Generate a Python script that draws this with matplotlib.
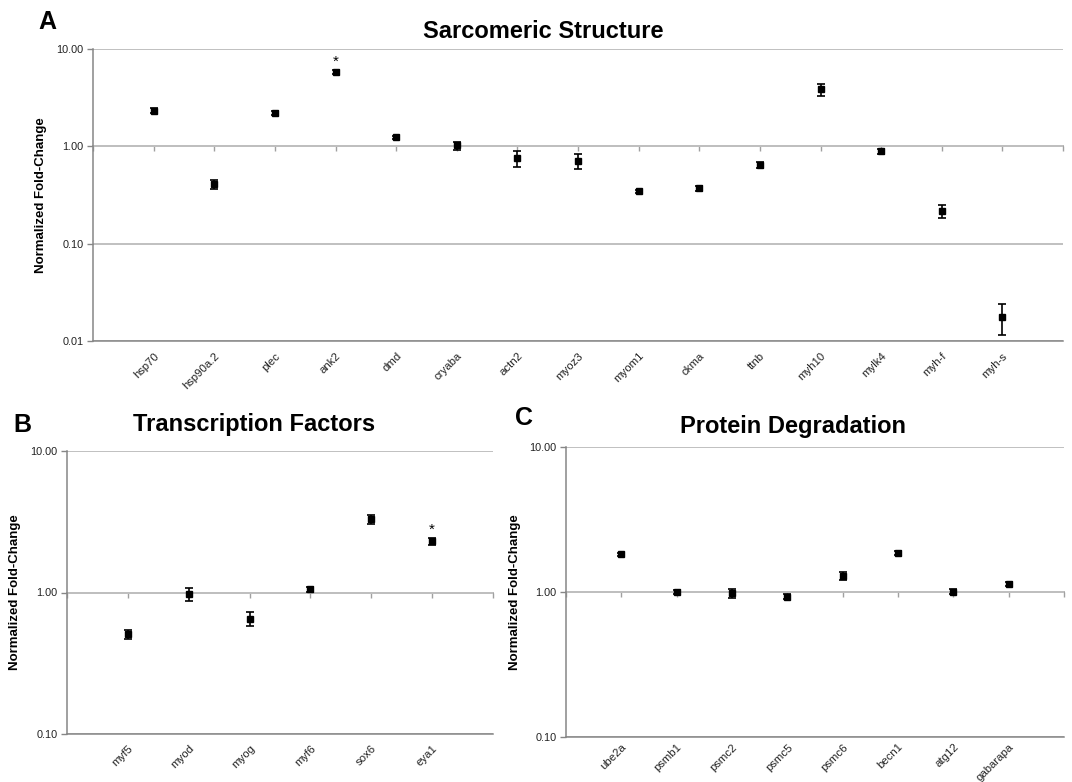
import numpy as np
import matplotlib
matplotlib.use("Agg")
import matplotlib.pyplot as plt
from matplotlib.ticker import FixedLocator, NullLocator, FormatStrFormatter

plt.rcParams['font.family'] = ['Liberation Sans', 'DejaVu Sans']

# panel A - sarcomeric structure
genes_a = ['hsp70', 'hsp90a.2', 'plec', 'ank2', 'dmd', 'cryaba', 'actn2', 'myoz3',
           'myom1', 'ckma', 'ttnb', 'myh10', 'mylk4', 'myh-f', 'myh-s']
fold_a = [2.33, 0.41, 2.22, 5.79, 1.24, 1.02, 0.76, 0.71, 0.345, 0.37, 0.645,
          3.84, 0.89, 0.217, 0.0178]
err_a = [0.15, 0.045, 0.10, 0.25, 0.04, 0.10, 0.14, 0.13, 0.01, 0.02, 0.05,
         0.57, 0.06, 0.035, 0.0064]
star_a = ['ank2']

# panel B - transcription factors
genes_b = ['myf5', 'myod', 'myog', 'myf6', 'sox6', 'eya1']
fold_b = [0.507, 0.973, 0.651, 1.056, 3.30, 2.30]
err_b = [0.037, 0.10, 0.075, 0.045, 0.25, 0.13]
star_b = ['eya1']

# panel C - protein degradation
genes_c = ['ube2a', 'psmb1', 'psmc2', 'psmc5', 'psmc6', 'becn1', 'atg12', 'gabarapa']
fold_c = [1.82, 1.00, 0.984, 0.929, 1.294, 1.853, 1.005, 1.135]
err_c = [0.045, 0.035, 0.07, 0.04, 0.08, 0.055, 0.04, 0.035]
star_c = []

W, H = 1072, 782
fig = plt.figure(figsize=(W / 100, H / 100), dpi=100)

dark = '#868686'
light = '#c0c0c0'


def px_box(l, t, r, b):
    return [l / W, 1 - b / H, (r - l) / W, (b - t) / H]


def panel(box, genes, fold, err, stars, ylim, labx, xpad):
    ax = fig.add_axes(px_box(*box))
    n = len(genes)
    x = np.arange(n)
    ax.errorbar(x, fold, yerr=err, fmt='s', color='black', markersize=4,
                elinewidth=1.2, capsize=2.8, capthick=1.2, zorder=5)
    for g in stars:
        i = genes.index(g)
        ax.annotate('*', (i, fold[i] + err[i]), xytext=(0, 1), textcoords='offset points',
                    ha='center', va='bottom', fontsize=11)
    ax.set_yscale('log')
    ax.set_ylim(*ylim)
    ax.set_xlim(-1, n)
    ax.yaxis.set_major_locator(FixedLocator([10 ** k for k in range(int(np.log10(ylim[0])), int(np.log10(ylim[1])) + 1)]))
    ax.yaxis.set_minor_locator(NullLocator())
    ax.yaxis.set_major_formatter(FormatStrFormatter('%.2f'))
    ax.grid(axis='y', color=light, linewidth=1.4)
    ax.set_axisbelow(True)
    ax.set_xticks(x)
    ax.set_xticklabels(genes, rotation=45, ha='right', rotation_mode='anchor')
    ax.tick_params(axis='x', length=0, pad=xpad, labelsize=8.2, labelcolor='#222222')
    ax.tick_params(axis='y', length=4, width=1, color=dark, labelsize=7.8,
                   labelcolor='#222222', pad=3)
    ax.spines['top'].set_visible(False)
    ax.spines['right'].set_visible(False)
    ax.spines['left'].set_color(dark)
    ax.spines['bottom'].set_color(dark)
    ax.spines['left'].set_linewidth(1.1)
    ax.spines['bottom'].set_linewidth(1.1)
    ax.set_ylabel('Normalized Fold-Change', fontsize=9.5, fontweight='bold')
    ax.yaxis.set_label_coords(labx, 0.5)

    # category axis crossing at 1.00
    frac = (0 - np.log10(ylim[0])) / (np.log10(ylim[1]) - np.log10(ylim[0]))
    sec = ax.secondary_xaxis(frac)
    sec.set_alignment('bottom')
    sec.set_xticks(np.arange(-1, n + 1))
    sec.set_xticklabels([])
    sec.tick_params(axis='x', length=3.5, width=1, color='#a0a0a0', direction='out')
    for s in sec.spines.values():
        s.set_color(dark)
        s.set_linewidth(1.1)
    return ax


panel((93, 49, 1063, 341), genes_a, fold_a, err_a, star_a, (0.01, 10), -0.047, 7)
panel((67, 451, 493, 734), genes_b, fold_b, err_b, star_b, (0.1, 10), -0.108, 6.5)
panel((566, 447, 1064, 737), genes_c, fold_c, err_c, star_c, (0.1, 10), -0.090, 3.5)

titles = [('Sarcomeric Structure', 543, 31), ('Transcription Factors', 254, 425),
          ('Protein Degradation', 793, 427)]
for txt, tx, ty in titles:
    fig.text(tx / W, 1 - ty / H, txt, ha='center', va='center', fontsize=17, fontweight='bold')

letters = [('A', 47, 22), ('B', 22, 425), ('C', 524, 418)]
for txt, tx, ty in letters:
    fig.text(tx / W, 1 - ty / H, txt, ha='center', va='center', fontsize=18, fontweight='bold')

fig.savefig('out.png', dpi=100)
